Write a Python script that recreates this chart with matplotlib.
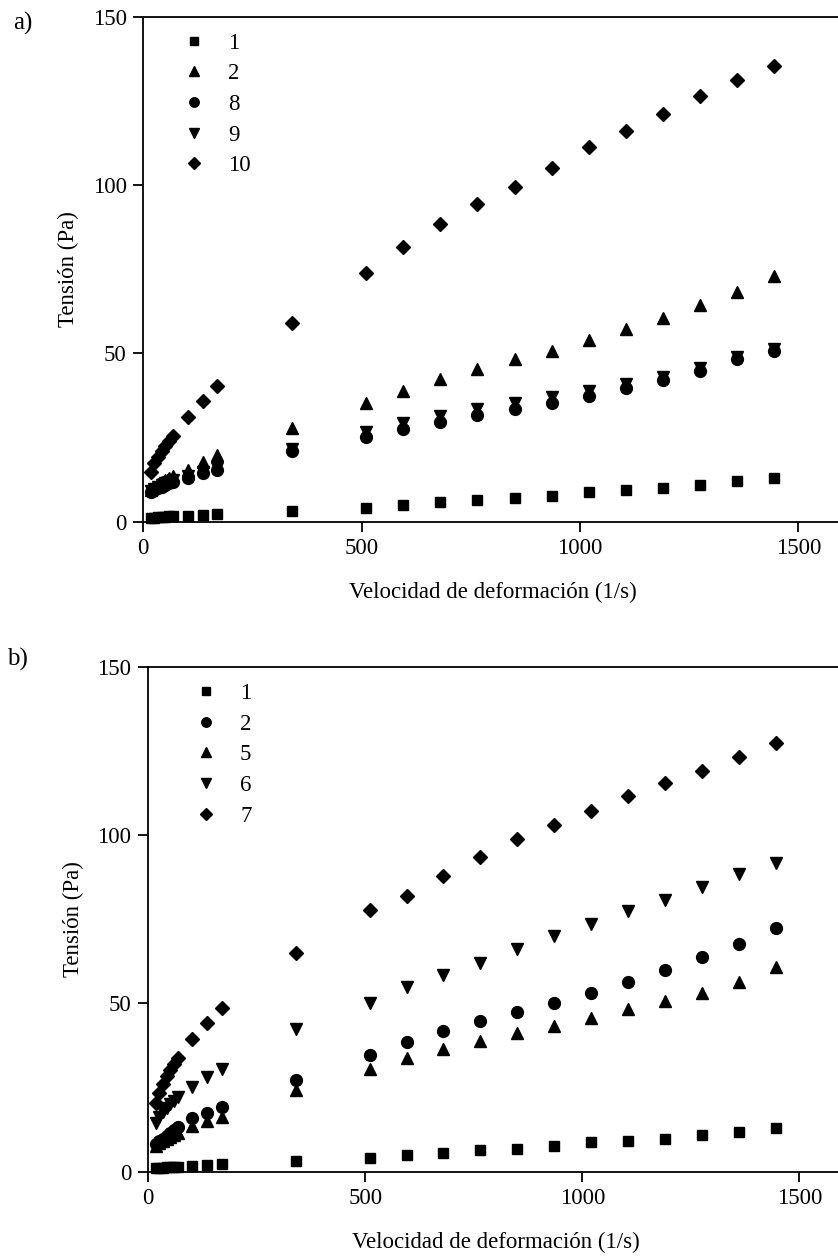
import matplotlib
matplotlib.use("Agg")
import matplotlib.pyplot as plt

plt.rcParams['font.family'] = ['Liberation Serif', 'DejaVu Serif']

# shear rates (1/s)
shear = [17, 25.5, 34, 42.5, 51, 59.5, 68, 102, 136, 170, 340,
         510, 595, 680, 765, 850, 935, 1020, 1105, 1190, 1275, 1360, 1445]

# panel a) stress (Pa)
a_1 = [1.0, 1.1, 1.2, 1.3, 1.4, 1.5, 1.5, 1.7, 2.0, 2.3, 3.2,
       4.1, 4.9, 5.7, 6.5, 7.0, 7.6, 8.7, 9.3, 9.9, 10.8, 12.1, 13.0]
a_2 = [9.5, 10.3, 11.0, 11.6, 12.2, 12.8, 13.4, 15.3, 17.8, 19.7, 27.7,
       35.1, 38.8, 42.2, 45.2, 48.2, 50.7, 53.9, 57.1, 60.4, 64.4, 68.3, 72.9]
a_8 = [8.8, 9.4, 9.9, 10.4, 10.9, 11.3, 11.7, 12.9, 14.3, 15.3, 21.0,
       25.2, 27.6, 29.6, 31.6, 33.4, 35.3, 37.4, 39.6, 42.0, 44.6, 48.4, 50.6]
a_9 = [9.0, 9.7, 10.3, 10.8, 11.3, 11.8, 12.2, 13.5, 14.8, 15.8, 21.5,
       26.7, 29.2, 31.3, 33.3, 35.1, 37.1, 38.8, 40.8, 43.0, 45.6, 48.8, 51.3]
a_10 = [14.8, 17.3, 19.3, 21.0, 22.5, 24.0, 25.5, 31.1, 35.9, 40.2, 59.0,
        73.9, 81.4, 88.4, 94.4, 99.3, 104.9, 111.3, 116.1, 121.0, 126.5, 131.2, 135.3]

# panel b) stress (Pa)
b_1 = [1.0, 1.1, 1.2, 1.3, 1.3, 1.4, 1.4, 1.8, 2.0, 2.2, 3.3,
       4.0, 5.0, 5.6, 6.4, 6.8, 7.5, 8.7, 9.1, 9.8, 10.9, 11.9, 12.9]
b_2 = [8.2, 9.0, 9.8, 10.6, 11.5, 12.4, 13.4, 15.9, 17.3, 19.3, 27.2,
       34.7, 38.4, 41.8, 44.7, 47.5, 50.2, 53.2, 56.3, 59.9, 63.8, 67.6, 72.4]
b_5 = [7.6, 8.4, 9.1, 9.8, 10.4, 11.0, 11.6, 13.6, 15.1, 16.3, 24.3,
       30.4, 33.9, 36.4, 38.8, 41.1, 43.3, 45.7, 48.2, 50.6, 53.2, 56.3, 60.7]
b_6 = [14.5, 16.2, 17.6, 18.9, 20.0, 21.1, 22.1, 25.2, 28.0, 30.4, 42.3,
       50.2, 54.8, 58.4, 62.1, 66.1, 70.0, 73.5, 77.4, 80.7, 84.6, 88.4, 91.8]
b_7 = [20.5, 23.5, 26.0, 28.3, 30.2, 32.0, 33.7, 39.3, 44.1, 48.5, 64.9,
       77.7, 82.0, 87.8, 93.6, 98.7, 103.0, 107.2, 111.6, 115.4, 119.0, 123.1, 127.2]

FS = 16.5
MS = {'s': 7, '^': 9, 'o': 8.5, 'v': 9, 'D': 7.2}


def panel(ax, series, legend_x):
    for label, y, m in series:
        ax.plot(shear, y, linestyle='none', marker=m, color='black',
                markersize=MS[m], label=label, clip_on=False)
    ax.set_xlim(0, 1600)
    ax.set_ylim(0, 150)
    ax.set_xticks([0, 500, 1000, 1500])
    ax.set_yticks([0, 50, 100, 150])
    ax.spines['right'].set_visible(False)
    for s in ['left', 'bottom', 'top']:
        ax.spines[s].set_linewidth(1.3)
    ax.tick_params(direction='out', length=7, width=1.3, labelsize=FS, pad=5)
    ax.set_xlabel('Velocidad de deformación (1/s)', fontsize=FS, labelpad=16)
    ax.set_ylabel('Tensión (Pa)', fontsize=FS, labelpad=10)
    ax.legend(loc='upper left', bbox_to_anchor=(legend_x, 0.995), frameon=False,
              fontsize=FS, numpoints=1, markerscale=0.8, handlelength=2.0,
              labelspacing=0.42, handletextpad=0.5, borderaxespad=0.2)


fig = plt.figure(figsize=(8.38, 12.6), dpi=100)
ax1 = fig.add_axes([0.1709, 0.5861, 0.834, 0.4008])
ax2 = fig.add_axes([0.1768, 0.0701, 0.829, 0.4008])

panel(ax1, [('1', a_1, 's'), ('2', a_2, '^'), ('8', a_8, 'o'),
            ('9', a_9, 'v'), ('10', a_10, 'D')], 0.02)
panel(ax2, [('1', b_1, 's'), ('2', b_2, 'o'), ('5', b_5, '^'),
            ('6', b_6, 'v'), ('7', b_7, 'D')], 0.03)

fig.text(0.0155, 0.9905, 'a)', fontsize=18, ha='left', va='top')
fig.text(0.0084, 0.4857, 'b)', fontsize=18, ha='left', va='top')

fig.savefig('out.png', dpi=100)
